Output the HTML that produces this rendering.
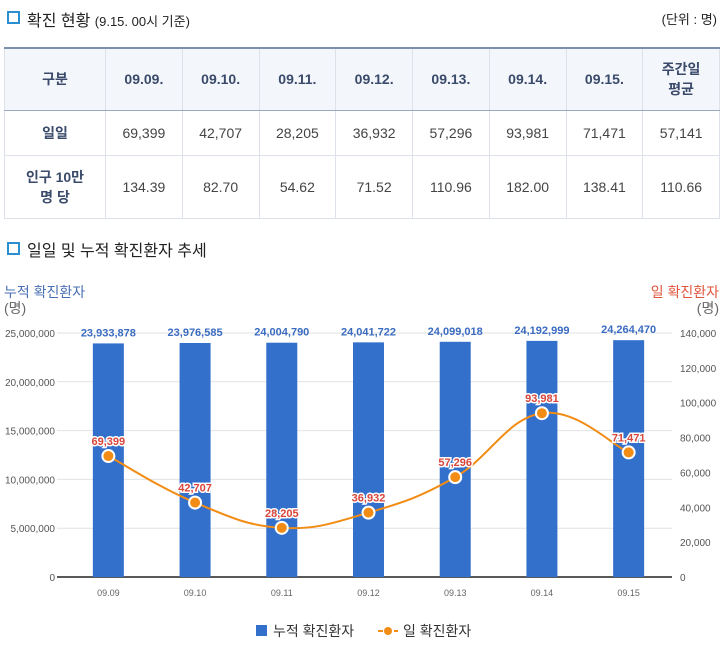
<!DOCTYPE html>
<html><head><meta charset="utf-8">
<style>
body{margin:0;width:723px;height:653px;background:#fff;font-family:"Liberation Sans","Noto Sans CJK KR",sans-serif;color:#333;overflow:hidden;position:relative}
.h{position:absolute;font-size:16px;color:#222}
.sq{position:absolute;width:9px;height:9px;border:2px solid #2a8fd0;background:#fff}
table{position:absolute;left:4px;top:47px;width:716px;border-collapse:collapse;font-size:14px}
td{border:1px solid #dde2ea;text-align:center;color:#444}
tr:first-child td{background:#f3f6fb;font-weight:bold;color:#3a4a6a;border-top:2px solid #7d8fae;border-bottom:1px solid #9aa8c2}
td:first-child{font-weight:bold;color:#3a4a6a;width:98px}
</style></head><body>
<div class="sq" style="left:7px;top:11px"></div>
<div class="h" style="left:27px;top:7px">확진 현황 <span style="font-size:13px">(9.15. 00시 기준)</span></div>
<div class="h" style="right:6px;top:9px;font-size:13px">(단위 : 명)</div>
<table>
<tr style="height:62px"><td>구분</td><td>09.09.</td><td>09.10.</td><td>09.11.</td><td>09.12.</td><td>09.13.</td><td>09.14.</td><td>09.15.</td><td>주간일<br>평균</td></tr>
<tr style="height:45px"><td>일일</td><td>69,399</td><td>42,707</td><td>28,205</td><td>36,932</td><td>57,296</td><td>93,981</td><td>71,471</td><td>57,141</td></tr>
<tr style="height:63px"><td>인구 10만<br>명 당</td><td>134.39</td><td>82.70</td><td>54.62</td><td>71.52</td><td>110.96</td><td>182.00</td><td>138.41</td><td>110.66</td></tr>
</table>
<div class="sq" style="left:7px;top:242px"></div>
<div class="h" style="left:27px;top:237px">일일 및 누적 확진환자 추세</div>
<svg id="c" width="723" height="653" style="position:absolute;left:0;top:0"></svg>
<script>
const cats=["09.09","09.10","09.11","09.12","09.13","09.14","09.15"];
const cumul=[23933878,23976585,24004790,24041722,24099018,24192999,24264470];
const daily=[69399,42707,28205,36932,57296,93981,71471];
const leftTicks=[0,5000000,10000000,15000000,20000000,25000000];
const rightTicks=[0,20000,40000,60000,80000,100000,120000,140000];
const svg=document.getElementById('c');const NS='http://www.w3.org/2000/svg';
const X0=65,X1=672,Y0=577,Y1=333,bw=(X1-X0)/cats.length;
const xc=i=>X0+bw*(i+0.5);
const yl=v=>Y0-(v/25000000)*(Y0-Y1);
const yr=v=>Y0-(v/140000)*(Y0-Y1);
const fmt=v=>v.toLocaleString('en-US');
function mk(t,a,txt){const e=document.createElementNS(NS,t);for(const k in a)e.setAttribute(k,a[k]);if(txt!==undefined)e.textContent=txt;svg.appendChild(e);return e;}
leftTicks.forEach(v=>{const y=yl(v);
 const g=mk('line',{x1:57,x2:X1,y1:y,y2:y,stroke:v?'#e2e2e2':'#222','stroke-width':v?1:1.5});
 
 
 const t=mk('text',{x:55,y:y+4,'text-anchor':'end','font-size':10,fill:'#555'},fmt(v));
 
 });
rightTicks.forEach(v=>{const t=mk('text',{x:680,y:yr(v)+4,'font-size':10,fill:'#555'},fmt(v));
 
 });
let e=mk('text',{x:4,y:297,'font-size':14,fill:'#4a6fb5'},'누적 확진환자');
e=mk('text',{x:4,y:313,'font-size':14,fill:'#666'},'(명)');
e=mk('text',{x:719,y:297,'font-size':14,fill:'#e0553a','text-anchor':'end'},'일 확진환자');
e=mk('text',{x:719,y:313,'font-size':14,fill:'#666','text-anchor':'end'},'(명)');
cats.forEach((c,i)=>{const x=xc(i);
 const b=mk('rect',{x:x-15.5,y:yl(cumul[i]),width:31,height:Y0-yl(cumul[i]),fill:'#3370cc'});
 
 
 const l=mk('text',{x:x,y:yl(cumul[i])-7,'text-anchor':'middle','font-size':11,'font-weight':'bold',fill:'#3a6bc0'},fmt(cumul[i]));
 
 
 const xl=mk('text',{x:x,y:596,'text-anchor':'middle','font-size':9,fill:'#666'},c);
 
 });
const pts=daily.map((v,i)=>[xc(i),yr(v)]);
let d='M'+pts[0][0]+','+pts[0][1];
for(let i=0;i<pts.length-1;i++){const p0=pts[Math.max(0,i-1)],p1=pts[i],p2=pts[i+1],p3=pts[Math.min(pts.length-1,i+2)];
 const t=0.2;
 d+=` C${p1[0]+(p2[0]-p0[0])*t},${p1[1]+(p2[1]-p0[1])*t} ${p2[0]-(p3[0]-p1[0])*t},${p2[1]-(p3[1]-p1[1])*t} ${p2[0]},${p2[1]}`;}
e=mk('path',{d:d,fill:'none',stroke:'#f28c14','stroke-width':2});
pts.forEach((p,i)=>{const c=mk('circle',{cx:p[0],cy:p[1],r:6,fill:'#f28c14',stroke:'#fff','stroke-width':2});
 
 
 const l=mk('text',{x:p[0],y:p[1]-11,'text-anchor':'middle','font-size':11,'font-weight':'bold',fill:'#d9453a',stroke:'#fff','stroke-width':3,'paint-order':'stroke'},fmt(daily[i]));
 
 });
e=mk('rect',{x:256,y:625,width:11,height:11,fill:'#3370cc'});
e=mk('text',{x:273,y:636,'font-size':14,fill:'#333'},'누적 확진환자');
e=mk('line',{x1:378,x2:398,y1:631,y2:631,stroke:'#f28c14','stroke-width':2,'stroke-dasharray':'5,3'});
e=mk('circle',{cx:388,cy:631,r:4,fill:'#f28c14'});
e=mk('text',{x:403,y:636,'font-size':14,fill:'#333'},'일 확진환자');
</script>
</body></html>
